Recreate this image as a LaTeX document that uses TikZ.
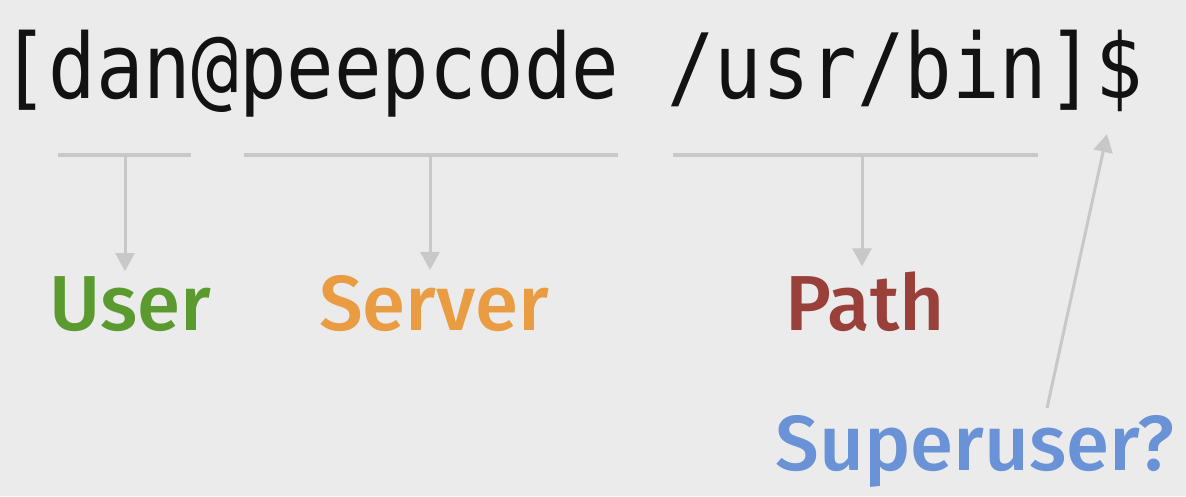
\documentclass[tikz,border=0pt]{standalone}
\usepackage{fontspec}
\usetikzlibrary{arrows.meta}
\newfontfamily\promptfont{DejaVu Sans Mono}
\newfontfamily\labfont{Fira Sans}[UprightFont={* Medium}]
\definecolor{bg}{HTML}{EBEBEB}
\definecolor{linegrey}{HTML}{C8C8C8}
\definecolor{usergreen}{HTML}{5B9A2F}
\definecolor{serverorange}{HTML}{E99C41}
\definecolor{pathred}{HTML}{9A403A}
\definecolor{superblue}{HTML}{6A92D6}
\begin{document}
\begin{tikzpicture}[x=1pt,y=-1pt,
  bar/.style={draw=linegrey,line width=3.2pt},
  arr/.style={draw=linegrey,line width=3pt,-{Triangle[width=19pt,length=18pt]},shorten >=5pt},
  lab/.style={inner sep=0pt,outer sep=0pt,anchor=base,font=\labfont\fontsize{78}{80}\selectfont}]
\fill[bg] (0,0) rectangle (1186,496);
\useasboundingbox (0,0) rectangle (1186,496);
\node[inner sep=0pt,anchor=base,font=\promptfont\fontsize{79}{80}\selectfont,text=black!93] (prompt) at (572,98) {\scalebox{1}[1.14]{[dan@peepcode /usr/bin]\$}};
% label nodes
\node[lab,text=usergreen] (user) at (130,330) {User};
\node[lab,text=serverorange] (server) at (434,330) {Server};
\node[lab,text=pathred] (path) at (865,330) {Path};
\node[lab,text=superblue] (super) at (975,470) {Superuser?};
% bars
\coordinate (u1) at (58,155); \coordinate (u2) at (191,155); \coordinate (um) at (125,155);
\coordinate (s1) at (244,155); \coordinate (s2) at (618,155); \coordinate (sm) at (430,155);
\coordinate (p1) at (673,155); \coordinate (p2) at (1038,155); \coordinate (pm) at (862,155);
\draw[bar] (u1) -- (u2);
\draw[bar] (s1) -- (s2);
\draw[bar] (p1) -- (p2);
\draw[arr] (um) -- (um |- user.north);
\draw[arr] (sm) -- (sm |- server.north);
\draw[arr] (pm) -- (pm |- path.north);
% superuser arrow
\coordinate (sustart) at (1047,408);
\coordinate (dollar) at (1107,134);
\draw[arr,shorten >=0pt] (sustart) -- (dollar);
\end{tikzpicture}
\end{document}
